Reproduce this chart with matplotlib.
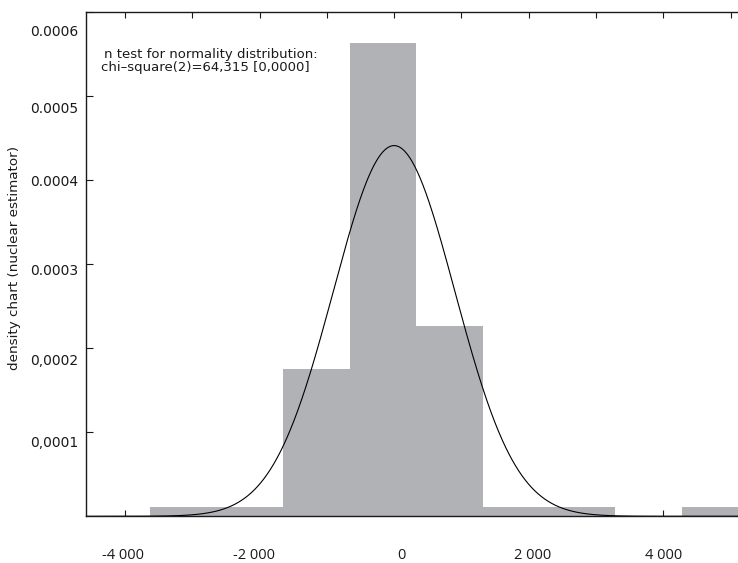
import numpy as np
import matplotlib
matplotlib.use("Agg")
import matplotlib.pyplot as plt
from matplotlib.transforms import ScaledTranslation, Bbox
from matplotlib.ticker import FixedLocator, FixedFormatter

# ---- data ----
bin_edges = [-3620, -2633, -1646, -659, 328, 1315, 2302, 3289, 4276, 5263]
densities = [1.07e-5, 1.07e-5, 1.75e-4, 5.64e-4, 2.26e-4, 1.07e-5, 1.07e-5, 0.0, 1.07e-5]
normal_mean = 0.0
normal_sd = 904.0

xtick_values = [-4000, -3000, -2000, -1000, 0, 1000, 2000, 3000, 4000, 5000]
xtick_labels = ["-4 000", "", "-2 000", "", "0", "", "2 000", "", "4 000", ""]
ytick_values = [0.0001, 0.0002, 0.0003, 0.0004, 0.0005, 0.0006]
ytick_labels = ["0,0001", "0,0002", "0.0003", "0.0004", "0.0005", "0.0006"]

ylabel_text = "density chart (nuclear estimator)"
note_line1 = "n test for normality distribution:"
note_line2 = "chi\u2013square(2)=64,315 [0,0000]"

# label nudges (pixels) to mimic the reference placement
ylabel_nudge = [9, 11, 5, 0, 11, 18]
xlabel_nudge = [-2, 0, -6, 0, 7, 0, 4, 0, 0, 0]

W, H, DPI = 738, 563, 100
fig = plt.figure(figsize=(W / DPI, H / DPI), dpi=DPI)
ax = fig.add_axes([85.7 / W, (H - 516.3) / H, 1 - 85.7 / W, (516.3 - 12.3) / H])

xmin, xmax = -4583, 5111
edges = np.array(bin_edges, dtype=float)
ax.bar(edges[:-1], densities, width=np.diff(edges), align="edge",
       color="#b1b2b6", linewidth=0, zorder=1)

xs = np.linspace(xmin, xmax, 1000)
pdf = np.exp(-0.5 * ((xs - normal_mean) / normal_sd) ** 2) / (normal_sd * np.sqrt(2 * np.pi))
ax.plot(xs, pdf, color="black", lw=0.8, zorder=3)

ax.set_xlim(xmin, xmax)
ax.set_ylim(0, 0.0006)
ax.set_axisbelow(True)

for side in ["left", "top", "bottom"]:
    ax.spines[side].set_linewidth(1.0)
    ax.spines[side].set_color("#1a1a1a")
ax.spines["right"].set_visible(False)

ax.xaxis.set_major_locator(FixedLocator(xtick_values))
ax.xaxis.set_major_formatter(FixedFormatter(xtick_labels))
ax.yaxis.set_major_locator(FixedLocator(ytick_values))
ax.yaxis.set_major_formatter(FixedFormatter(ytick_labels))

ax.tick_params(axis="x", which="major", direction="in", length=4, width=0.8,
               top=True, bottom=True, labeltop=False, labelbottom=True,
               pad=23, labelsize=10.5, colors="#1a1a1a")
ax.tick_params(axis="y", which="major", direction="in", length=5, width=0.8,
               left=True, right=False, pad=5.5, labelsize=10, colors="#1a1a1a")

for lbl in ax.get_xticklabels():
    lbl.set_fontfamily("Open Sans")

xt = ax.xaxis.get_major_ticks()
for t, dx in zip(xt, xlabel_nudge):
    t.label1.set_transform(t.label1.get_transform() +
                           ScaledTranslation(dx / DPI, 0, fig.dpi_scale_trans))
yt = ax.yaxis.get_major_ticks()
for t, dy in zip(yt, ylabel_nudge):
    t.label1.set_transform(t.label1.get_transform() +
                           ScaledTranslation(0, -dy / DPI, fig.dpi_scale_trans))

fig.text(15 / W, 1 - 258 / H, ylabel_text, rotation=90, ha="center", va="center",
         fontsize=9.7, color="#1a1a1a", family="DejaVu Sans")

t1 = fig.text(318 / W, 1 - 54.5 / H, note_line1, ha="right", va="center",
              fontsize=9.5, color="#1a1a1a", family="DejaVu Sans")
t1.set_clip_box(Bbox([[100.5, 0], [W, H]]))
t1.set_clip_on(True)
fig.text(101 / W, 1 - 67 / H, note_line2, ha="left", va="center",
         fontsize=9.5, color="#1a1a1a", family="DejaVu Sans")

fig.savefig("out.png", dpi=DPI)
